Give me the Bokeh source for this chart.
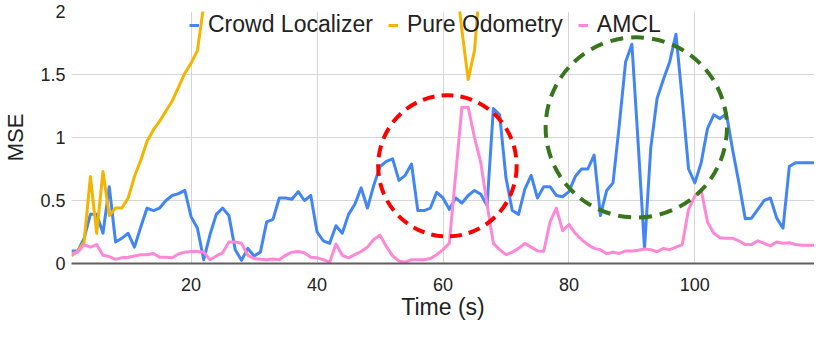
from bokeh.plotting import figure
from bokeh.models import Range1d, FixedTicker, Legend, LegendItem
from bokeh.embed import file_html
from bokeh.resources import INLINE

# ---------------- data ----------------
time_s = list(range(1, 120))

crowd_localizer = [
    0.10, 0.10, 0.20, 0.39, 0.39, 0.24, 0.61, 0.17, 0.20, 0.24,
    0.13, 0.29, 0.44, 0.42, 0.44, 0.50, 0.54, 0.555, 0.58, 0.37,
    0.28, 0.03, 0.23, 0.39, 0.44, 0.38, 0.11, 0.025, 0.12, 0.06,
    0.09, 0.33, 0.35, 0.52, 0.52, 0.51, 0.57, 0.50, 0.54, 0.25,
    0.18, 0.16, 0.30, 0.24, 0.39, 0.47, 0.60, 0.44, 0.62, 0.77,
    0.81, 0.83, 0.66, 0.70, 0.79, 0.42, 0.42, 0.44, 0.565, 0.52,
    0.43, 0.52, 0.48, 0.54, 0.58, 0.55, 0.46, 1.23, 1.18, 0.68,
    0.42, 0.39, 0.59, 0.70, 0.52, 0.61, 0.61, 0.54, 0.53, 0.57,
    0.69, 0.75, 0.75, 0.86, 0.38, 0.58, 0.64, 1.10, 1.60, 1.74,
    0.95, 0.12, 0.92, 1.31, 1.46, 1.60, 1.82, 1.30, 0.75, 0.64,
    0.80, 1.07, 1.18, 1.15, 1.19, 0.90, 0.64, 0.355, 0.36, 0.43,
    0.50, 0.52, 0.36, 0.28, 0.77, 0.80, 0.80, 0.80, 0.80,
]

pure_odometry = [
    0.06, 0.10, 0.17, 0.69, 0.24, 0.73, 0.38, 0.44, 0.44, 0.52,
    0.69, 0.82, 0.97, 1.06, 1.13, 1.21, 1.29, 1.40, 1.51, 1.59,
    1.69, 2.05, 2.3, 2.5, 2.7, 2.9, 3.1, 3.3, 3.5, 3.6,
    3.8, 3.9, 4.0, 4.1, 4.2, 4.2, 4.3, 4.3, 4.2, 4.2,
    4.1, 4.0, 3.9, 3.8, 3.7, 3.6, 3.5, 3.4, 3.3, 3.2,
    3.1, 3.0, 2.9, 2.8, 2.7, 2.6, 2.5, 2.45, 2.4, 2.35,
    2.3, 2.3, 1.85, 1.46, 1.69, 2.3, 2.9, 3.4, 3.8, 4.2,
    4.5, 4.8, 5.1, 5.3, 5.5, 5.7, 5.9, 6.0, 6.2, 6.4,
    6.5, 6.7, 6.9, 7.0, 7.2, 7.4, 7.5, 7.7, 7.9, 8.0,
    8.2, 8.4, 8.5, 8.7, 8.9, 9.0, 9.2, 9.4, 9.5, 9.7,
    9.9, 10.0, 10.2, 10.4, 10.5, 10.7, 10.9, 11.0, 11.2, 11.4,
    11.5, 11.7, 11.9, 12.0, 12.2, 12.4, 12.5, 12.7, 12.9,
]

amcl = [
    0.08, 0.09, 0.15, 0.13, 0.15, 0.065, 0.055, 0.033, 0.045, 0.05,
    0.06, 0.07, 0.07, 0.08, 0.05, 0.05, 0.045, 0.075, 0.09, 0.095,
    0.095, 0.09, 0.03, 0.06, 0.085, 0.17, 0.17, 0.16, 0.065, 0.04,
    0.033, 0.03, 0.035, 0.03, 0.065, 0.09, 0.095, 0.085, 0.05, 0.045,
    0.03, 0.01, 0.155, 0.065, 0.045, 0.07, 0.095, 0.13, 0.19, 0.225,
    0.135, 0.06, 0.02, 0.01, 0.03, 0.03, 0.03, 0.04, 0.07, 0.11,
    0.16, 0.70, 1.24, 1.24, 1.00, 0.80, 0.47, 0.16, 0.11, 0.07,
    0.09, 0.12, 0.16, 0.13, 0.10, 0.097, 0.33, 0.44, 0.26, 0.31,
    0.24, 0.19, 0.15, 0.12, 0.11, 0.077, 0.09, 0.08, 0.10, 0.10,
    0.105, 0.115, 0.11, 0.093, 0.12, 0.11, 0.13, 0.15, 0.43, 0.535,
    0.585, 0.33, 0.24, 0.205, 0.20, 0.20, 0.18, 0.15, 0.15, 0.18,
    0.16, 0.14, 0.17, 0.16, 0.165, 0.15, 0.145, 0.145, 0.145,
]

series_names = ["Crowd Localizer", "Pure Odometry", "AMCL"]

x_ticks = [20, 40, 60, 80, 100]
y_ticks = [0, 0.5, 1, 1.5, 2]
y_tick_labels = ["0", "0.5", "1", "1.5", "2"]
x_title = "Time (s)"
y_title = "MSE"

# highlighted regions (centre x, centre y, full width, full height)
red_region = (60.7, 0.775, 22.0, 1.12)
green_region = (90.7, 1.08, 28.8, 1.43)

# ---------------- styles ----------------
FONT = "Liberation Sans"
BLUE = "#4285F4"
YELLOW = "#F4B400"
PINK = "#FF88D6"
TEXT = "#222222"

p = figure(
    width=814, height=322,
    output_backend="svg", toolbar_location=None,
    x_range=Range1d(1, 119), y_range=Range1d(0, 2),
    min_border_left=69, min_border_right=0,
    min_border_top=11, min_border_bottom=59,
)
p.outline_line_color = None
p.background_fill_color = "white"
p.border_fill_color = "white"

r_crowd = p.line(time_s, crowd_localizer, line_color=BLUE, line_width=3, line_join="round")
r_odom = p.line(time_s, pure_odometry, line_color=YELLOW, line_width=3, line_join="round")
r_amcl = p.line(time_s, amcl, line_color=PINK, line_width=3, line_join="round")

p.ellipse(x=[red_region[0]], y=[red_region[1]], width=[red_region[2]], height=[red_region[3]],
          fill_alpha=0, line_color="#FF0000", line_width=4, line_dash="12 7")
p.ellipse(x=[green_region[0]], y=[green_region[1]], width=[green_region[2]], height=[green_region[3]],
          fill_alpha=0, line_color="#38761D", line_width=4, line_dash="13 8")

# axes
p.xaxis.ticker = FixedTicker(ticks=x_ticks)
p.yaxis.ticker = FixedTicker(ticks=y_ticks)
p.yaxis.major_label_overrides = {t: l for t, l in zip(y_ticks, y_tick_labels)}

for ax in (p.xaxis[0], p.yaxis[0]):
    ax.major_tick_line_color = None
    ax.minor_tick_line_color = None
    ax.major_tick_out = 0
    ax.major_tick_in = 0
    ax.major_label_text_font = FONT
    ax.major_label_text_font_size = "18px"
    ax.major_label_text_color = TEXT
    ax.axis_label_text_font = FONT
    ax.axis_label_text_font_style = "normal"
    ax.axis_label_text_color = TEXT

p.yaxis.axis_line_color = None
p.yaxis.axis_label = y_title
p.yaxis.axis_label_text_font_size = "22px"
p.yaxis.major_label_standoff = 6
p.yaxis.axis_label_standoff = 9

p.xaxis.axis_line_color = "#5f5f5f"
p.xaxis.axis_line_width = 2
p.xaxis.axis_label = x_title
p.xaxis.axis_label_text_font_size = "23px"
p.xaxis.major_label_standoff = 14
p.xaxis.axis_label_standoff = 0

p.xgrid.grid_line_color = "#d6d6d6"
p.ygrid.grid_line_color = "#d6d6d6"
p.xgrid.grid_line_width = 1
p.ygrid.grid_line_width = 1

legend = Legend(
    items=[
        LegendItem(label=series_names[0], renderers=[r_crowd]),
        LegendItem(label=series_names[1], renderers=[r_odom]),
        LegendItem(label=series_names[2], renderers=[r_amcl]),
    ],
    orientation="horizontal",
    location=(118, 225),
    background_fill_alpha=0,
    border_line_alpha=0,
    padding=0, margin=0,
    spacing=15,
    glyph_width=10, glyph_height=20,
    label_standoff=9,
    label_height=20,
    label_text_font=FONT,
    label_text_font_size="23px",
    label_text_color=TEXT,
)
p.add_layout(legend)

open("out.html", "w").write(file_html(p, INLINE))
